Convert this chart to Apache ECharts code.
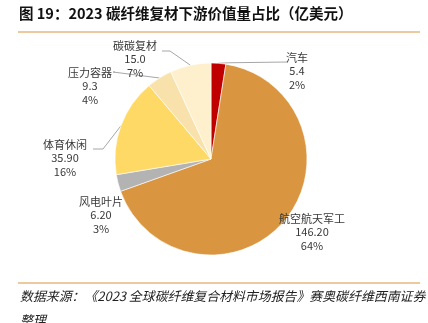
<!DOCTYPE html>
<html><head><meta charset="utf-8">
<script src="https://cdn.jsdelivr.net/npm/echarts@6/dist/echarts.min.js"></script>
<style>html,body{margin:0;padding:0;background:#fff}#c{width:428px;height:323px}</style>
</head><body><div id="c"></div>
<script>
const categories = ['汽车', '航空航天军工', '风电叶片', '体育休闲', '压力容器', '碳碳复材'];
const values = [5.4, 146.2, 6.2, 35.9, 9.3, 15.0];
const valueLabels = ['5.4', '146.20', '6.20', '35.90', '9.3', '15.0'];
const pctLabels = ['2%', '64%', '3%', '16%', '4%', '7%'];
const colors = ['#C00000', '#D9953F', '#B3B3B3', '#FFD966', '#F8E1AA', '#FFF0CD'];
// label anchor (center-x, top-y) and optional elbow point for the leader line
const labelPos = [[297, 51], [312, 212], [101, 195], [65, 138], [90, 66], [135, 39]];
const elbows = [[287, 62], null, null, [103, 149], [113, 72], [170, 51]];

const chart = echarts.init(document.getElementById('c'));
const fontCJK = '"Noto Sans CJK SC", "Liberation Serif", serif';
chart.setOption({
  animation: false,
  graphic: [
    {type: 'text', left: 19, top: 6, style: {text: '图 19：2023 碳纤维复材下游价值量占比（亿美元）', font: 'bold 14.5px "Noto Sans CJK SC", sans-serif', fill: '#111'}},
    {type: 'line', shape: {x1: 18, y1: 32, x2: 420, y2: 32}, style: {stroke: '#D9953F', lineWidth: 1.2}},
    {type: 'line', shape: {x1: 18, y1: 283, x2: 420, y2: 283}, style: {stroke: '#D9953F', lineWidth: 1.2}},
    {type: 'text', left: 20, top: 290, style: {text: '数据来源：《2023 全球碳纤维复合材料市场报告》赛奥碳纤维西南证券', font: 'italic 12.9px "Noto Sans CJK SC", sans-serif', fill: '#222'}},
    {type: 'text', left: 20, top: 314, style: {text: '整理', font: 'italic 12.9px "Noto Sans CJK SC", sans-serif', fill: '#222'}}
  ],
  series: [{
    type: 'pie',
    center: [211, 159],
    radius: [0, 96],
    startAngle: 90,
    clockwise: true,
    data: categories.map((n, i) => ({name: n, value: values[i], itemStyle: {color: colors[i]}})),
    itemStyle: {borderColor: '#fff', borderWidth: 0.6},
    label: {
      show: true,
      position: 'outside',
      formatter: p => p.name + '\n' + valueLabels[p.dataIndex] + '\n' + pctLabels[p.dataIndex],
      fontFamily: fontCJK,
      fontSize: 11,
      lineHeight: 13.5,
      color: '#383838',
      align: 'center'
    },
    labelLine: {show: true, lineStyle: {color: '#A6A6A6', width: 1}, length: 10, length2: 10},
    labelLayout: function (params) {
      const i = params.dataIndex;
      const pos = labelPos[i];
      const res = {x: pos[0], y: pos[1], align: 'center', verticalAlign: 'top'};
      const p0 = params.labelLinePoints ? params.labelLinePoints[0] : null;
      if (elbows[i] && p0) {
        const e = elbows[i];
        const endX = (i === 0) ? e[0] : (i === 3 ? 93 : (i === 4 ? 115 : 162));
        res.labelLinePoints = [p0, e, [endX, e[1]]];
        if (i === 0) res.labelLinePoints = [p0, [p0[0] + 10, p0[1] - 0.5], e];
      } else {
        res.labelLinePoints = p0 ? [p0, p0, p0] : undefined;
      }
      return res;
    }
  }]
});
</script></body></html>
